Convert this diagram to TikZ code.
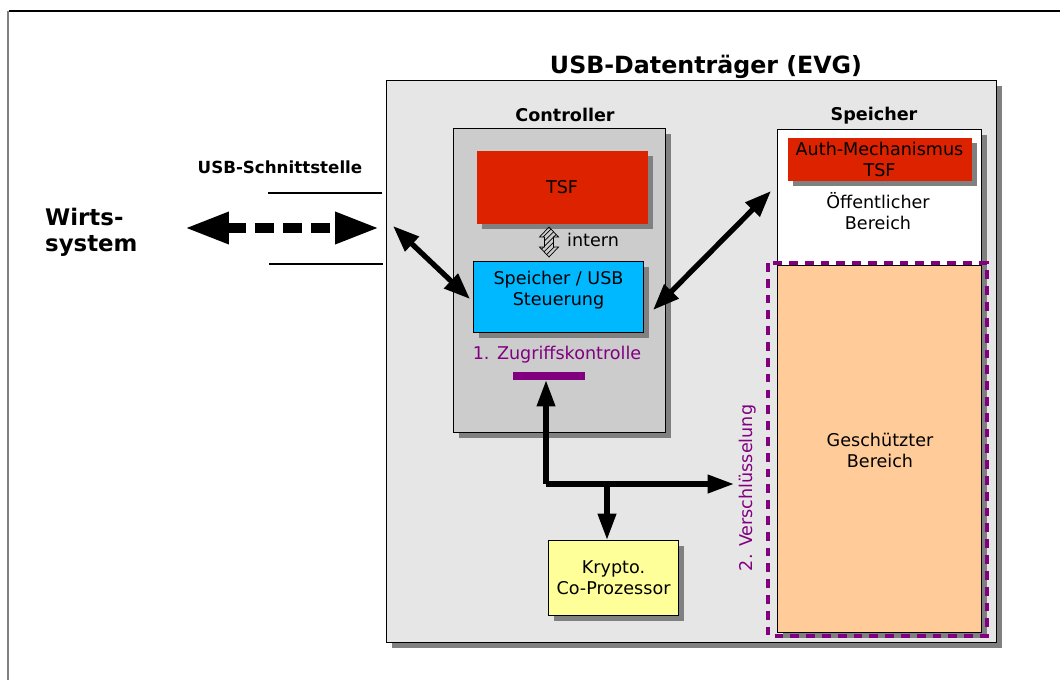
\documentclass[tikz,border=0pt]{standalone}
\usepackage{fontspec}
\setmainfont{DejaVu Sans}
\usepackage{xcolor}
\usetikzlibrary{arrows.meta, positioning, patterns, shadows}

\definecolor{evggray}{HTML}{E6E6E6}
\definecolor{ctrlgray}{HTML}{CCCCCC}
\definecolor{shadegray}{HTML}{808080}
\definecolor{tsfred}{HTML}{DD2200}
\definecolor{steublue}{HTML}{00B8FF}
\definecolor{kryptoyellow}{HTML}{FFFF99}
\definecolor{peach}{HTML}{FFCC99}
\definecolor{lila}{HTML}{800080}

\begin{document}
\begin{tikzpicture}[x=0.02cm, y=-0.02cm,
    box/.style = {rectangle, draw=black, line width=0.6pt, inner sep=0pt, anchor=north west},
    shade/.style = {drop shadow={shadow xshift=3pt, shadow yshift=-3pt, fill=shadegray, opacity=1}},
    txt/.style = {font=\fontsize{10}{12}\selectfont, align=center},
    head/.style = {font=\bfseries\fontsize{10}{12}\selectfont},
    bigarrow/.style = {line width=3pt, {Triangle[length=15pt, width=11pt]}-{Triangle[length=15pt, width=11pt]}},
    busarrow/.style = {line width=3pt, -{Triangle[length=15pt, width=10pt]}}]

  \useasboundingbox (0,0) rectangle (1060,680);

  % frame of the slide
  \draw [line width=0.8pt] (9,11) -- (1060,11);
  \draw [line width=1.2pt, shadegray] (8,11) -- (8,680);

  % EVG
  \node (evg) [box, fill=evggray, shade, minimum width=12.2cm, minimum height=11.24cm] at (386,80) {};
  \node (evgtitle) [font=\bfseries\fontsize{13.5}{15}\selectfont] at (706,67) {USB-Datenträger (EVG)};

  % Controller
  \node (ctrl) [box, fill=ctrlgray, shade, minimum width=4.24cm, minimum height=6.08cm] at (453,128) {};
  \node (ctrltitle) [head] at (565,115) {Controller};
  \node (tsf) [box, draw=none, fill=tsfred, shade, minimum width=3.42cm, minimum height=1.46cm] at (476,150) {};
  \node [txt] at (tsf.center) {TSF};
  \node (steu) [box, fill=steublue, shade, minimum width=3.4cm, minimum height=1.42cm] at (473,261) {};
  \node [txt, below=2pt of steu.north] {Speicher / USB\\Steuerung};
  \filldraw [pattern=north east lines, line width=0.4pt]
    (549,227) -- (558.5,237) -- (553.5,237) -- (553.5,247) -- (558.5,247) -- (549,257)
    -- (539.5,247) -- (544.5,247) -- (544.5,237) -- (539.5,237) -- cycle;
  \node (intern) [txt, anchor=west] at (561,240) {intern};
  \node (zugriff) [txt, text=lila] at (557,355) {1. Zugriffskontrolle};
  \node (zbar) [box, draw=none, fill=lila, minimum width=1.44cm, minimum height=0.16cm] at (512,371) {};

  % Krypto
  \node (krypto) [box, fill=kryptoyellow, shade, minimum width=2.6cm, minimum height=1.5cm] at (548,540) {};
  \node [txt] at (krypto.center) {Krypto.\\Co-Prozessor};

  % Speicher
  \node (oeff) [box, fill=white, minimum width=4.08cm, minimum height=10.06cm, shade] at (777,129) {};
  \node (gesch) [box, fill=peach, minimum width=4.08cm, minimum height=7.34cm] at (777,265) {};
  \node (spetitle) [head] at (874,116) {Speicher};
  \node (auth) [box, draw=none, fill=tsfred, shade, minimum width=3.68cm, minimum height=0.86cm] at (787,137) {};
  \node [txt] at (auth.center) {Auth-Mechanismus\\TSF};
  \node [txt] at (878,211) {Öffentlicher\\Bereich};
  \node [txt] at (880,450) {Geschützter\\Bereich};
  \draw [lila, line width=2.6pt, dash pattern=on 5pt off 4pt] (768,263) rectangle (987,636);
  \node (verschl) [txt, text=lila, rotate=90] at (748,488) {2. Verschlüsselung};

  % USB interface
  \node (wirt) [anchor=west, align=left, font=\bfseries\fontsize{13}{15}\selectfont] at (39,232) {Wirts-\\system};
  \node (usbtitle) [font=\bfseries\fontsize{9.5}{11}\selectfont] at (280,167) {USB-Schnittstelle};
  \draw [line width=1.6pt] (268,193) -- (382,193);
  \draw [line width=1.6pt] (269,264) -- (383,264);
  \coordinate (usbL) at (185,228);
  \coordinate (usbR) at (379,228);
  \draw [line width=5.5pt, dash pattern=on 11pt off 5pt,
         {Triangle[length=25pt, width=17pt]}-{Triangle[length=25pt, width=17pt]}] (usbL) -- (usbR);

  % connectors
  \coordinate (inL) at (393,226);
  \coordinate (inR) at (470,299);
  \coordinate (outL) at (653,310);
  \coordinate (outR) at (771,191);
  \coordinate (bus) at (546,484);
  \coordinate (busK) at (607,484);
  \coordinate (encr) at (734,484);
  \draw [bigarrow] (inL) -- (inR);
  \draw [bigarrow] (outL) -- (outR);
  \draw [busarrow] (bus) -- (zbar.south -| bus);
  \draw [busarrow] (bus) -- (encr);
  \draw [busarrow] (busK) -- (krypto.north -| busK);
\end{tikzpicture}
\end{document}
